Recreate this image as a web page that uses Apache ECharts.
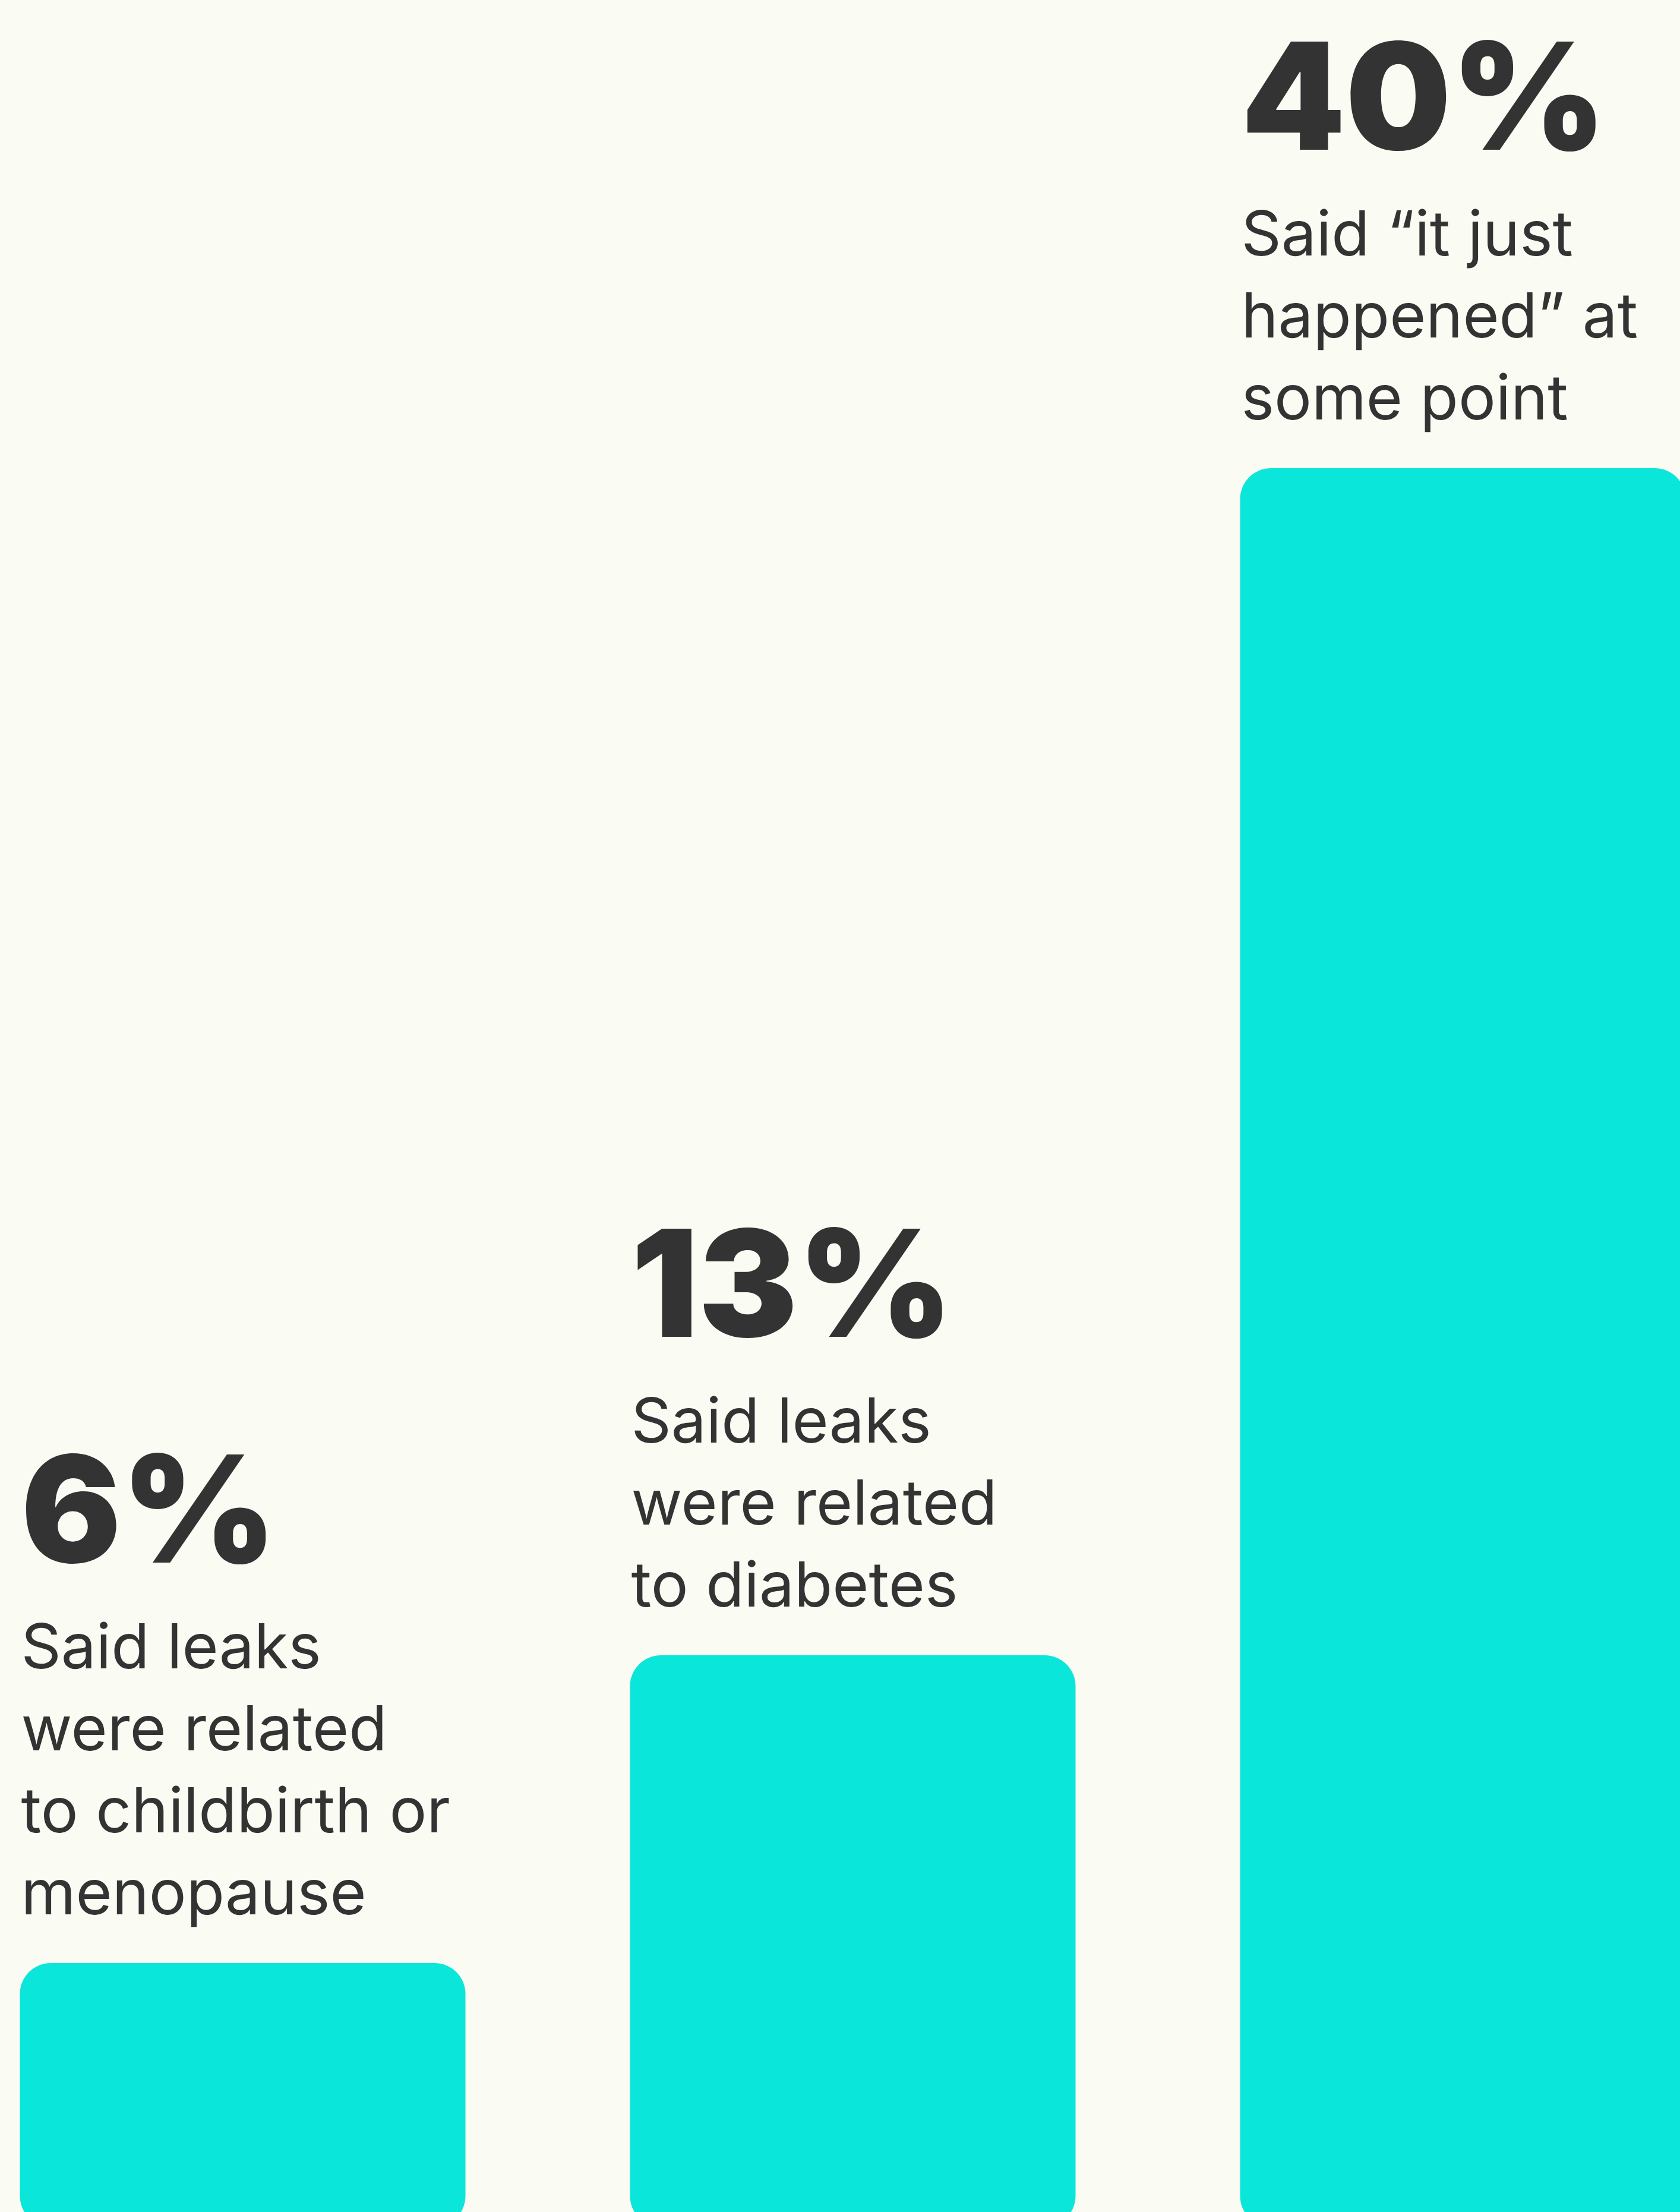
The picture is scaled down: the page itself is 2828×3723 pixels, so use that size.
<!DOCTYPE html>
<html>
<head>
<meta charset="utf-8">
<script src="https://cdn.jsdelivr.net/npm/echarts@6/dist/echarts.min.js"></script>
<style>
  html, body { margin: 0; padding: 0; background: #fafbf3; overflow: hidden; }
  /* chart is a bit wider/taller than the page: the outer bars run off the edges */
  #main { position: absolute; left: -105px; top: 0; width: 3081px; height: 3748px; }
</style>
</head>
<body>
<div id="main"></div>
<script>
var categories = ['childbirth', 'diabetes', 'just happened'];
var values = [6, 13, 40];
var bigLabels = ['6%', '13%', '40%'];
var descriptions = [
  ['Said leaks', 'were related', 'to childbirth or', 'menopause'],
  ['Said leaks', 'were related', 'to diabetes'],
  ['Said \u201cit just', 'happened\u201d at', 'some point']
];

var chart = echarts.init(document.getElementById('main'));

chart.setOption({
  backgroundColor: '#fafbf3',
  animation: false,
  grid: { left: 0, right: 0, top: 48, bottom: 0 },
  xAxis: {
    type: 'category',
    data: categories,
    show: false
  },
  yAxis: {
    type: 'value',
    min: 0,
    max: 50,
    show: false,
    splitLine: { show: false }
  },
  series: [{
    type: 'bar',
    data: values,
    barWidth: 750,
    itemStyle: { color: '#0be6da', borderRadius: 52 },
    label: {
      show: true,
      position: [2, -45],
      align: 'left',
      verticalAlign: 'bottom',
      color: '#333333',
      fontFamily: 'Inter',
      formatter: function (p) {
        var lines = ['{big|' + bigLabels[p.dataIndex] + '}'];
        descriptions[p.dataIndex].forEach(function (t) {
          lines.push('{body|' + t + '}');
        });
        return lines.join('\n');
      },
      rich: {
        big: {
          fontFamily: 'Inter',
          fontSize: 250,
          fontWeight: 900,
          lineHeight: 304,
          color: '#333333'
        },
        body: {
          fontFamily: 'Inter',
          fontSize: 105,
          lineHeight: 138,
          color: '#333333'
        }
      }
    }
  }]
});
</script>
</body>
</html>
